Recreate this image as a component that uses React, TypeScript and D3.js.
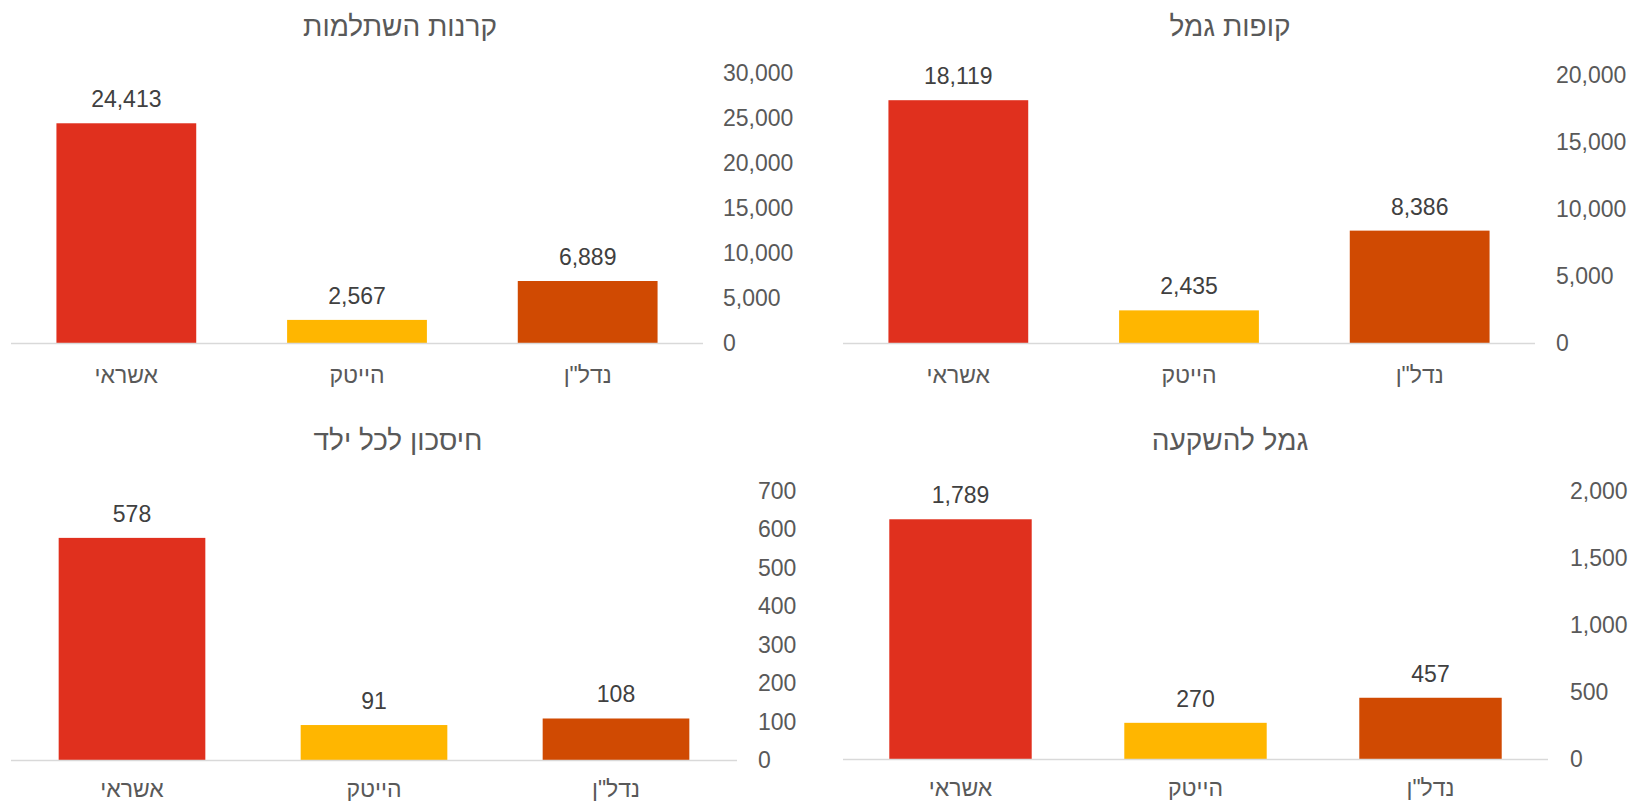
import React from 'react';
import * as d3 from 'd3';

const categories = ['אשראי', 'הייטק', 'נדל"ן'];
const barColors = ['#E0301E', '#FFB600', '#D04A02'];

const hishtalmutTitle = 'קרנות השתלמות';
const hishtalmutValues = [24413, 2567, 6889];
const hishtalmutTicks = [0, 5000, 10000, 15000, 20000, 25000, 30000];

const gemelTitle = 'קופות גמל';
const gemelValues = [18119, 2435, 8386];
const gemelTicks = [0, 5000, 10000, 15000, 20000];

const childTitle = 'חיסכון לכל ילד';
const childValues = [578, 91, 108];
const childTicks = [0, 100, 200, 300, 400, 500, 600, 700];

const investTitle = 'גמל להשקעה';
const investValues = [1789, 270, 457];
const investTicks = [0, 500, 1000, 1500, 2000];

const FONT = '"Liberation Sans", Arial, sans-serif';
const fmt = d3.format(',');

interface PanelProps {
  title: string;
  values: number[];
  ticks: number[];
  x0: number;
  x1: number;
  yBase: number;
  yTop: number;
  labelX: number;
  titleX: number;
  titleY: number;
  catDy: number;
}

const Panel = ({ title, values, ticks, x0, x1, yBase, yTop, labelX, titleX, titleY, catDy }: PanelProps) => {
  // excel style gap width ~65%
  const gap = 0.65;
  const x = d3
    .scaleBand<string>()
    .domain(categories)
    .range([x0, x1])
    .paddingInner(gap / (1 + gap))
    .paddingOuter(gap / (1 + gap) / 2);
  const y = d3
    .scaleLinear()
    .domain([0, ticks[ticks.length - 1]])
    .range([yBase, yTop]);

  return (
    <g>
      <text
        x={titleX}
        y={titleY}
        textAnchor="middle"
        direction="rtl"
        style={{ fontSize: 28 }}
        fill="#595959"
      >
        {title}
      </text>
      {ticks.map((t) => (
        <text key={t} x={labelX} y={y(t)} dy="0.35em" fontSize={23} fill="#595959">
          {fmt(t)}
        </text>
      ))}
      {values.map((v, i) => {
        const c = categories[i];
        return (
          <g key={c}>
            <rect x={x(c)} y={y(v)} width={x.bandwidth()} height={yBase - y(v)} fill={barColors[i]} />
            <text
              x={x(c) + x.bandwidth() / 2}
              y={y(v) - 16}
              textAnchor="middle"
              fontSize={23}
              fill="#404040"
            >
              {fmt(v)}
            </text>
            <text
              x={x(c) + x.bandwidth() / 2}
              y={yBase + catDy}
              textAnchor="middle"
              direction="rtl"
              fontSize={23}
              fill="#595959"
            >
              {c}
            </text>
          </g>
        );
      })}
      <line x1={x0} x2={x1} y1={yBase + 0.5} y2={yBase + 0.5} stroke="#D9D9D9" strokeWidth={1.5} />
    </g>
  );
};

export default function App() {
  return (
    <div style={{ position: 'absolute', left: 0, top: 0 }}>
      <svg width={1631} height={802} style={{ display: 'block', fontFamily: FONT }}>
        <rect width={1631} height={802} fill="#ffffff" />
        <Panel
          title={hishtalmutTitle}
          values={hishtalmutValues}
          ticks={hishtalmutTicks}
          x0={11}
          x1={703}
          yBase={343}
          yTop={73}
          labelX={723}
          titleX={400}
          titleY={36}
          catDy={40}
        />
        <Panel
          title={gemelTitle}
          values={gemelValues}
          ticks={gemelTicks}
          x0={843}
          x1={1535}
          yBase={343}
          yTop={75}
          labelX={1556}
          titleX={1230}
          titleY={36}
          catDy={40}
        />
        <Panel
          title={childTitle}
          values={childValues}
          ticks={childTicks}
          x0={11}
          x1={737}
          yBase={760}
          yTop={491}
          labelX={758}
          titleX={398}
          titleY={450}
          catDy={37}
        />
        <Panel
          title={investTitle}
          values={investValues}
          ticks={investTicks}
          x0={843}
          x1={1548}
          yBase={759}
          yTop={491}
          labelX={1570}
          titleX={1230}
          titleY={450}
          catDy={37}
        />
      </svg>
    </div>
  );
}
